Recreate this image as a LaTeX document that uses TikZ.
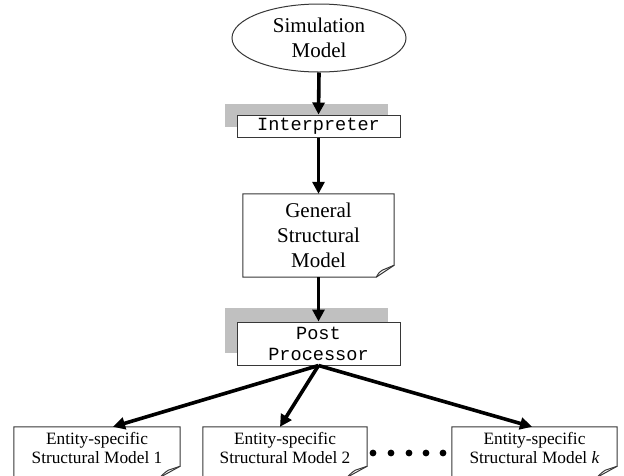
\documentclass[tikz,border=0pt]{standalone}
\usepackage{fontspec}
\setmainfont{Liberation Serif}
\setmonofont{Liberation Mono}
\usetikzlibrary{shapes.geometric,arrows.meta,backgrounds}
\definecolor{shadowgray}{RGB}{192,192,192}
\definecolor{edgegray}{RGB}{55,55,55}
\tikzset{
  flowarrow/.style={line width=3.6pt, -{Triangle[length=12pt,width=12pt]}},
  docline/.style={draw=edgegray, line width=1pt},
  procbox/.style={draw=edgegray, line width=1pt, fill=white, inner sep=0pt,
    minimum width=163pt, align=center, font=\ttfamily\fontsize{18.6}{21}\selectfont},
  gendoc/.style={inner sep=0pt, align=center, font=\fontsize{21}{25}\selectfont},
  entdoc/.style={inner sep=0pt, minimum height=50pt},
  enttext/.style={align=center, inner sep=0pt, font=\fontsize{17.3}{19.5}\selectfont}
}
\newcommand\dogearoutline[3]{%
  \draw[docline, fill=white] (#1.north west) -- (#1.north east) -- ([yshift=#3]#1.south east)
    -- ([xshift=-#2]#1.south east) -- (#1.south west) -- cycle;
  \draw[docline] ([xshift=-#2]#1.south east) .. controls ([shift={(-15pt,5pt)}]#1.south east)
    .. ([shift={(-12pt,7pt)}]#1.south east) -- ([yshift=#3]#1.south east);
}
\begin{document}
\begin{tikzpicture}[x=1pt,y=-1pt]
\useasboundingbox (0,0) rectangle (624,475);

\node[ellipse, draw=edgegray, line width=1pt, fill=white, minimum width=174pt, minimum height=68pt,
  inner sep=0pt, align=center, font=\fontsize{21}{25}\selectfont] (sim) at (319,38) {Simulation\\Model};

\node[procbox, minimum height=22pt] (interp) at (318.5,126) {Interpreter};

\node[gendoc, minimum width=151pt, minimum height=83pt] (gsm) at (318.5,235.5) {};
\dogearoutline{gsm}{18pt}{12pt}
\node[gendoc] at (gsm.center) {General\\Structural\\Model};

\node[procbox, minimum height=43pt] (pp) at (318.5,343.5) {Post\\Processor};

\node[entdoc, minimum width=166pt] (e1) at (97,452) {};
\node[entdoc, minimum width=164pt] (e2) at (285,452) {};
\node[entdoc, minimum width=165pt] (ek) at (534.5,452) {};
\dogearoutline{e1}{20pt}{11pt}
\dogearoutline{e2}{20pt}{11pt}
\dogearoutline{ek}{20pt}{11pt}
\node[enttext] at ([yshift=4pt]e1.center) {Entity-specific\\Structural Model 1};
\node[enttext] at ([yshift=4pt]e2.center) {Entity-specific\\Structural Model 2};
\node[enttext] at ([yshift=4pt]ek.center) {Entity-specific\\Structural Model \textit{k}};

\foreach \dx in {373,391,409,426,443} \fill (\dx,453) circle (3.4pt);

\draw[flowarrow] (sim.south) -- (interp.north);
\draw[flowarrow] (interp.south) -- (gsm.north);
\draw[flowarrow] (gsm.south) -- (pp.north);
\draw[flowarrow] (pp.south) -- ([xshift=16pt]e1.north);
\draw[flowarrow] (pp.south) -- ([xshift=-5pt]e2.north);
\draw[flowarrow] (pp.south) -- ([xshift=-2.5pt]ek.north);

\begin{scope}[on background layer]
  \fill[white] (0,0) rectangle (624,475);
  \fill[shadowgray] ([shift={(-12pt,11pt)}]interp.north west) rectangle ([shift={(-13pt,11pt)}]interp.south east);
  \fill[shadowgray] ([shift={(-12pt,14pt)}]pp.north west) rectangle ([shift={(-13pt,13pt)}]pp.south east);
\end{scope}
\end{tikzpicture}
\end{document}
